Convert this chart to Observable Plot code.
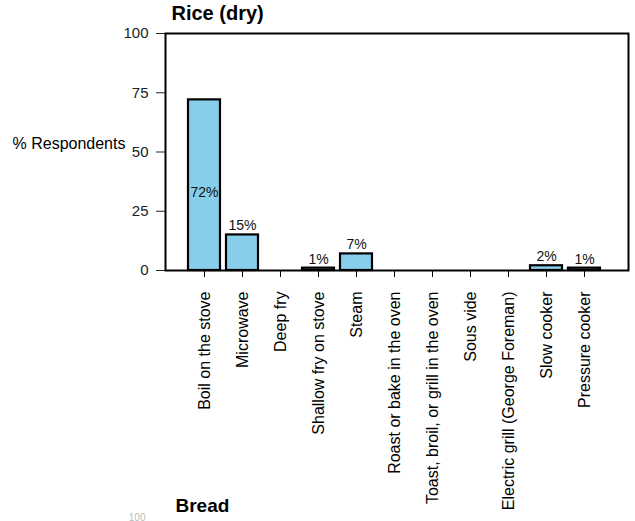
<!DOCTYPE html>
<html>
<head>
<meta charset="utf-8">
<script src="https://cdn.jsdelivr.net/npm/d3@7"></script>
<script src="https://cdn.jsdelivr.net/npm/@observablehq/plot@0.6"></script>
<style>
  body { margin: 0; background: #fff; }
  #chart svg { display: block; }
</style>
</head>
<body>
<div id="chart"></div>
<script>
const categories = [
  "Boil on the stove", "Microwave", "Deep fry", "Shallow fry on stove", "Steam",
  "Roast or bake in the oven", "Toast, broil, or grill in the oven", "Sous vide",
  "Electric grill (George Foreman)", "Slow cooker", "Pressure cooker"
];
const values = [72, 15, 0, 1, 7, 0, 0, 0, 0, 2, 1];
const yTicks = [0, 25, 50, 75, 100];
const title = "Rice (dry)";
const nextTitle = "Bread";
const yLabel = "% Respondents";

const data = categories.map((c, i) => ({category: c, value: values[i]}));
const labelled = data.filter(d => d.value > 0);

const font = "Liberation Sans, Arial, sans-serif";

const chart = Plot.plot({
  width: 635,
  height: 521,
  marginTop: 33,
  marginBottom: 251,
  marginLeft: 165,
  marginRight: 7,
  style: {fontFamily: font, fontSize: "15px", color: "#000", background: "#fff"},
  x: {domain: categories, paddingInner: 0.16, paddingOuter: 0.58, insetRight: 5, label: null},
  y: {domain: [0, 100], label: null},
  marks: [
    Plot.barY(data, {x: "category", y: "value", fill: "#87CEEB", stroke: "#000", strokeWidth: 2.2}),
    Plot.text(labelled.filter(d => d.value > 50), {
      x: "category", y: d => d.value / 2, text: d => d.value + "%", dy: 7,
      fontSize: 14, fill: "#111"
    }),
    Plot.text(labelled.filter(d => d.value <= 50), {
      x: "category", y: "value", text: d => d.value + "%", dy: -9,
      fontSize: 14, fill: "#111"
    }),
    Plot.axisY({ticks: yTicks, tickSize: 9, tickPadding: 8, fontSize: 15, color: "#222", label: null}),
    Plot.axisX({tickRotate: -90, tickSize: 7, tickPadding: 14, fontSize: 16, label: null, color: "#000"}),
    Plot.frame({stroke: "#000", strokeWidth: 2}),
    Plot.text([title], {frameAnchor: "top-left", dx: 6, dy: -28, fontSize: 20, fontWeight: "bold", textAnchor: "start", lineAnchor: "top"}),
    Plot.text([yLabel], {frameAnchor: "top-left", dx: -153, dy: 110, fontSize: 16, textAnchor: "start", lineAnchor: "middle"}),
    Plot.text([nextTitle], {frameAnchor: "bottom-left", dx: 10, dy: 235, fontSize: 19, fontWeight: "bold", textAnchor: "start", lineAnchor: "middle"}),
    Plot.text(["100"], {frameAnchor: "bottom-left", dx: -20, dy: 250, fontSize: 10, fill: "#bbb", textAnchor: "end", lineAnchor: "bottom"})
  ]
});
document.getElementById("chart").appendChild(chart);
</script>
</body>
</html>
